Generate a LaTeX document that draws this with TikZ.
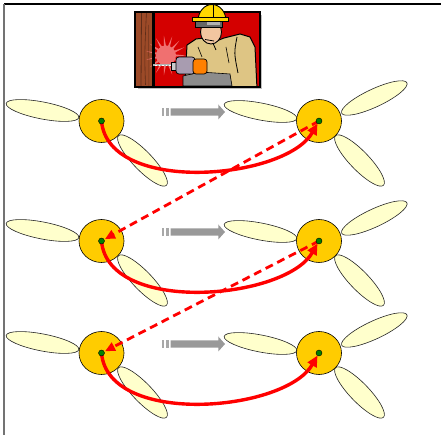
\documentclass[tikz,border=0pt]{standalone}
\usetikzlibrary{arrows.meta,shapes.geometric,calc}
\definecolor{bladefill}{HTML}{FFFFCC}
\definecolor{hubfill}{HTML}{FFCC00}
\definecolor{dotgreen}{HTML}{008000}
\definecolor{movegray}{HTML}{999999}
\definecolor{movebar}{HTML}{A8A8A8}
\definecolor{cardred}{HTML}{D40000}
\definecolor{shirt}{HTML}{DEC584}
\definecolor{skin}{HTML}{F2C6A0}
\definecolor{hat}{HTML}{FFD800}
\definecolor{wood}{HTML}{9C4A28}
\definecolor{spark}{HTML}{F07070}
\definecolor{glove}{HTML}{A89CB0}
\definecolor{drillorange}{HTML}{FF8000}
\tikzset{
  blade/.style={fill=bladefill,draw=black!85,line width=0.6pt},
  hub/.style={ellipse,fill=hubfill,draw=black,line width=0.6pt,minimum width=45pt,minimum height=43pt,inner sep=0pt},
  pivot/.style={circle,fill=dotgreen,draw=black,line width=0.4pt,minimum size=6pt,inner sep=0pt},
  turn/.style={red,line width=3.4pt,-{Triangle[length=11pt,width=10pt]},shorten >=3pt},
  jump/.style={red,line width=2.8pt,dash pattern=on 8pt off 5pt,-{Triangle[length=10pt,width=9pt]},shorten >=4pt},
}
\begin{document}
\begin{tikzpicture}[x=1pt,y=1pt]
\useasboundingbox (0,0) rectangle (441,435);
% outer frame edges
\draw[black,line width=1.8pt] (4,431) -- (441,431);
\draw[black!55,line width=1.8pt] (4,431) -- (4,0);

% blades (behind the hubs)
\foreach \Y in {314,194,82}{
  % left rotor: two blades
  \draw[blade,shift={(42.5,\Y+10.5)},rotate=-11] (0,0) ellipse (37pt and 8.5pt);
  \draw[blade,shift={(142.5,\Y-39.5)},rotate=-46] (0,0) ellipse (34.5pt and 9.5pt);
  % right rotor: three blades
  \draw[blade,shift={(260.5,\Y+9.5)},rotate=-11] (0,0) ellipse (37pt and 8.5pt);
  \draw[blade,shift={(374.3,\Y+23)},rotate=25] (0,0) ellipse (36pt and 9pt);
  \draw[blade,shift={(359.5,\Y-39.5)},rotate=-46] (0,0) ellipse (34.5pt and 9.5pt);
  % grey move arrow
  \fill[movebar] (161.7,\Y+9-3.7) rectangle (164.2,\Y+9+3.7);
  \fill[movebar] (166.2,\Y+9-3.7) rectangle (168.8,\Y+9+3.7);
  \fill[movegray] (170.7,\Y+9-3.7) -- (218.3,\Y+9-3.7) -- (218.3,\Y+9-7.5)
     -- (225,\Y+9) -- (218.3,\Y+9+7.5) -- (218.3,\Y+9+3.7) -- (170.7,\Y+9+3.7) -- cycle;
}

% hubs
\node[hub] (L1) at (101.5,314) {};
\node[hub] (R1) at (319,314) {};
\node[hub] (L2) at (101.5,194) {};
\node[hub] (R2) at (319,194) {};
\node[hub] (L3) at (101.5,82) {};
\node[hub] (R3) at (319,82) {};

% rotation within each row
\draw[turn] (L1.center) .. controls +(6.5,-74) and +(-34,-59) .. (R1.center);
\draw[turn] (L2.center) .. controls +(6.5,-74) and +(-34,-59) .. (R2.center);
\draw[turn] (L3.center) .. controls +(6.5,-74) and +(-34,-59) .. (R3.center);
% carry over to the next row
\draw[jump] (R1.center) -- (L2.center);
\draw[jump] (R2.center) -- (L3.center);

% pivots
\node[pivot] (pL1) at (L1.center) {};
\node[pivot] (pR1) at (R1.center) {};
\node[pivot] (pL2) at (L2.center) {};
\node[pivot] (pR2) at (R2.center) {};
\node[pivot] (pL3) at (L3.center) {};
\node[pivot] (pR3) at (R3.center) {};

% worker card
\fill[black!25] (137.5,346) rectangle (262,420);
\fill[cardred] (135,348) rectangle (259.5,423);
\begin{scope}
  \clip (136,349) rectangle (258.5,422);
  % wooden post
  \fill[wood] (135,347) rectangle (152,424);
  \draw[wood!60!black,line width=0.8pt] (141,347) -- (141.5,424);
  \draw[wood!60!black,line width=0.6pt] (145.5,350) .. controls (144.5,380) .. (146.5,424);
  \draw[wood!70!black,line width=0.5pt] (149,347) -- (148.5,410);
  % spark
  \foreach \a in {0,24,...,336}{
    \fill[spark] (166,379.5) -- ($(166,379.5)+(\a-7:9)$) -- ($(166,379.5)+(\a:20)$) -- ($(166,379.5)+(\a+7:9)$) -- cycle;
  }
  \fill[spark] (166,379.5) circle (10pt);
  \fill[black] (151.5,347) rectangle (154.5,424);
  % torso and arms
  \fill[shirt,draw=black,line width=1pt] (185,346) -- (186,372) -- (187,390) -- (196,396) -- (205,397)
     -- (214,393) -- (224,397) -- (240,401) -- (250,398) -- (255,388) -- (257,346) -- cycle;
  \draw[black,line width=0.8pt] (237,398) .. controls (234,382) .. (238,362);
  \draw[black,line width=0.8pt] (212,394) -- (216,385);
  \draw[black,line width=0.6pt] (226,388) -- (229,372);
  \draw[black,line width=0.6pt] (198,388) -- (202,378);
  % head
  \fill[skin,draw=black,line width=0.9pt] (211,403) ellipse (10.5pt and 12pt);
  \draw[black,line width=0.8pt] (205,395.5) -- (214,394);
  % goggles
  \fill[black!60,draw=black,line width=0.6pt] (195,408) rectangle (222,415);
  \fill[black!30] (207,409.5) rectangle (220,413.5);
  % drill
  \fill[black!45,draw=black,line width=0.6pt] (183,349) -- (183,359) -- (200,363) -- (230,361) -- (232,349) -- cycle;
  \draw[black!30,line width=1.6pt] (153,369.7) -- (173,369.7);
  \draw[white,line width=0.6pt,dash pattern=on 1.5pt off 2pt] (155,369.7) -- (172,369.7);
  \fill[black!20,draw=black,line width=0.6pt] (171,365) rectangle (180,373);
  \fill[glove,draw=black,line width=0.7pt,rounded corners=3pt] (176,361) rectangle (195,378);
  \fill[drillorange,draw=black,line width=0.7pt,rounded corners=3pt] (193,361) rectangle (207,376);
\end{scope}
\draw[black,line width=2pt] (135,348) rectangle (259.5,423);
% hard hat
\fill[hat,draw=black,line width=0.9pt] (198,414) arc[start angle=180,end angle=0,x radius=14pt,y radius=16.5pt] -- cycle;
\fill[hat,draw=black,line width=0.9pt] (192,414) rectangle (228,417.5);
\draw[black,line width=0.6pt] (213,430) -- (213,417.5);
\end{tikzpicture}
\end{document}
